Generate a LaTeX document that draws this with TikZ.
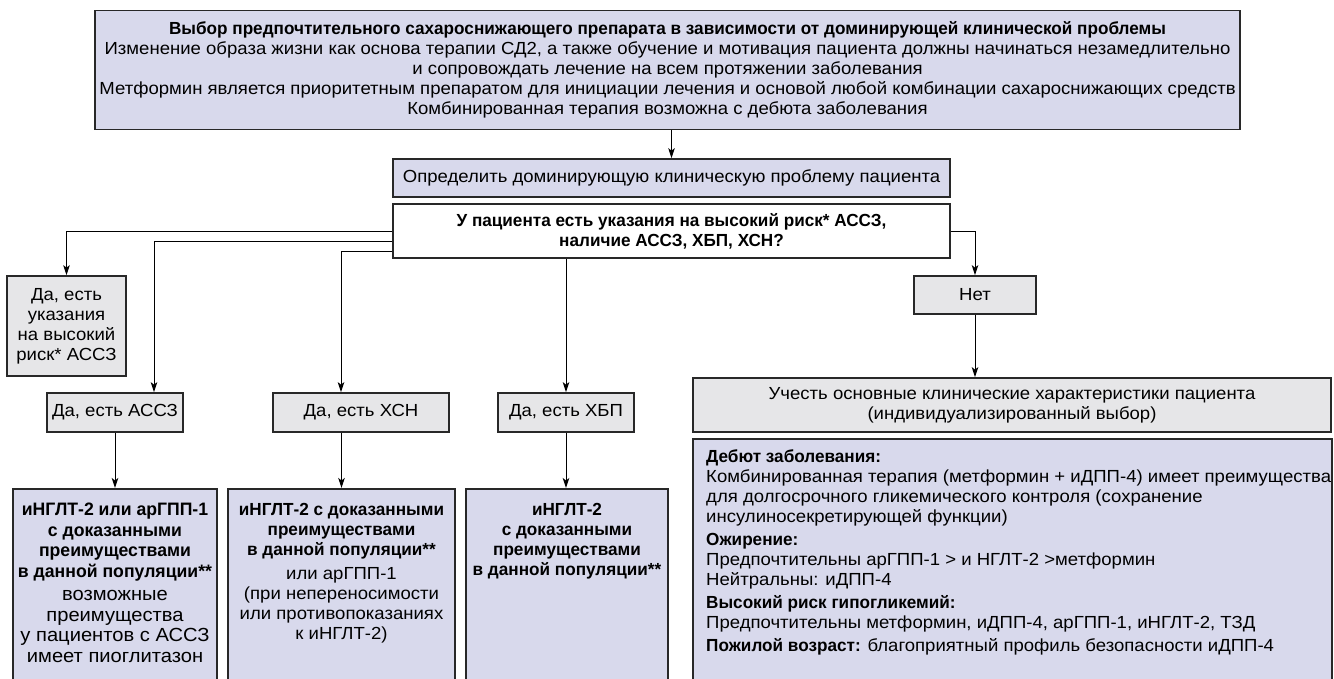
\documentclass[tikz,border=0pt]{standalone}
\usepackage{fontspec}
\setmainfont{Liberation Sans}[FakeStretch=1.06]
\newfontfamily\bfam{Liberation Sans}[FakeStretch=0.98]
\newcommand{\hb}[1]{{\bfam\bfseries #1}}
\newcommand{\bbl}[1]{{\bfam\bfseries\fontsize{18}{20.5}\selectfont #1}}
\newcommand{\rbl}[1]{{\fontsize{19}{20.5}\selectfont #1}}
\usetikzlibrary{arrows.meta,calc}
\definecolor{lav}{RGB}{216,217,236}
\definecolor{gry}{RGB}{230,230,232}
\definecolor{edge}{RGB}{40,40,40}
\begin{document}
\begin{tikzpicture}[x=1pt,y=-1pt,
  box/.style={draw=edge, line width=1.7pt, inner sep=0pt, align=center, font=\fontsize{17.5}{20}\selectfont},
  lavbox/.style={box, fill=lav},
  grybox/.style={box, fill=gry},
  whtbox/.style={box, fill=white},
  txt/.style={inner sep=0pt, font=\fontsize{17.5}{20}\selectfont},
  arr/.style={draw=black, line width=1pt, -{Stealth[length=10pt,width=6.5pt,inset=2.5pt]}}
  ]
\useasboundingbox (0,0) rectangle (1334,678);
\clip (0,0) rectangle (1334,678);

\node[lavbox, minimum width=1145pt, minimum height=119pt] (top) at (667.5,70)
 {\hb{Выбор предпочтительного сахароснижающего препарата в зависимости от доминирующей клинической проблемы}\\
  Изменение образа жизни как основа терапии СД2, а также обучение и мотивация пациента должны начинаться незамедлительно\\
  и сопровождать лечение на всем протяжении заболевания\\
  Метформин является приоритетным препаратом для инициации лечения и основой любой комбинации сахароснижающих средств\\
  Комбинированная терапия возможна с дебюта заболевания};

\node[lavbox, minimum width=557pt, minimum height=38pt] (def) at (671.5,178)
 {Определить доминирующую клиническую проблему пациента};

\node[whtbox, minimum width=557pt, minimum height=54pt] (q) at (671.5,231)
 {\hb{У пациента есть указания на высокий риск* АССЗ,}\\ \hb{наличие АССЗ, ХБП, ХСН?}};

\node[grybox, minimum width=119pt, minimum height=100pt] (yes0) at (66.5,326)
 {Да, есть\\ указания\\ на высокий\\ риск* АССЗ};
\node[grybox, minimum width=136pt, minimum height=39pt] (yes1) at (115,412.5) {Да, есть АССЗ};
\node[grybox, minimum width=176pt, minimum height=39pt] (yes2) at (361,412.5) {Да, есть ХСН};
\node[grybox, minimum width=136pt, minimum height=39pt] (yes3) at (566,412.5) {Да, есть ХБП};
\node[grybox, minimum width=122pt, minimum height=38pt] (no) at (975,295) {Нет};

\node[grybox, minimum width=638pt, minimum height=54pt] (cons) at (1012,405)
 {Учесть основные клинические характеристики пациента\\ (индивидуализированный выбор)};

\node[lavbox, anchor=north west, minimum width=639pt, minimum height=260pt] (info) at (692,438) {};
\node[lavbox, anchor=north, minimum width=204pt, minimum height=220pt] (b1) at (115,488) {};
\node[lavbox, anchor=north, minimum width=227pt, minimum height=220pt] (b2) at (341.5,488) {};
\node[lavbox, anchor=north, minimum width=202pt, minimum height=220pt] (b3) at (567,488) {};

\node[txt, align=center, anchor=north, font=\fontsize{18}{20.5}\selectfont] (t1) at (115,503)
 {\bbl{иНГЛТ-2 или арГПП-1}\\ \bbl{с доказанными}\\ \bbl{преимуществами}\\ \bbl{в данной популяции**}\\[3pt]
  \rbl{возможные}\\ \rbl{преимущества}\\ \rbl{у пациентов с АССЗ}\\ \rbl{имеет пиоглитазон}};
\node[txt, align=center, anchor=north] (t2) at (341.5,503.5)
 {\hb{иНГЛТ-2 с доказанными}\\ \hb{преимуществами}\\ \hb{в данной популяции**}\\[4pt]
  или арГПП-1\\ (при непереносимости\\ или противопоказаниях\\ к иНГЛТ-2)};
\node[txt, align=center, anchor=north] (t3) at (567,503.5)
 {\hb{иНГЛТ-2}\\ \hb{с доказанными}\\ \hb{преимуществами}\\ \hb{в данной популяции**}};

\node[txt, align=left, anchor=north west] (t4) at (706,449.5)
 {\hb{Дебют заболевания:}\\
  Комбинированная терапия (метформин + иДПП-4) имеет преимущества\\
  для долгосрочного гликемического контроля (сохранение\\
  инсулиносекретирующей функции)\\[3pt]
  \hb{Ожирение:}\\
  Предпочтительны арГПП-1 > и НГЛТ-2 >метформин\\
  Нейтральны: иДПП-4\\[3pt]
  \hb{Высокий риск гипогликемий:}\\
  Предпочтительны метформин, иДПП-4, арГПП-1, иНГЛТ-2, ТЗД\\[3pt]
  \hb{Пожилой возраст:} благоприятный профиль безопасности иДПП-4};

\draw[arr] (def.north |- top.south) -- (def.north);
\draw[arr] (q.west) -| (yes0.north);
\draw[arr] ([yshift=-10pt]q.west) -| ([xshift=39pt]yes1.north);
\draw[arr] ([yshift=-20pt]q.west) -| ([xshift=-20pt]yes2.north);
\draw[arr] (q.south -| yes3.north) -- (yes3.north);
\draw[arr] (q.east) -| (no.north);
\draw[arr] (no.south) -- (no.south |- cons.north);
\draw[arr] (yes1.south) -- (yes1.south |- b1.north);
\draw[arr] (b2.north |- yes2.south) -- (b2.north);
\draw[arr] (yes3.south) -- (yes3.south |- b3.north);
\end{tikzpicture}
\end{document}
